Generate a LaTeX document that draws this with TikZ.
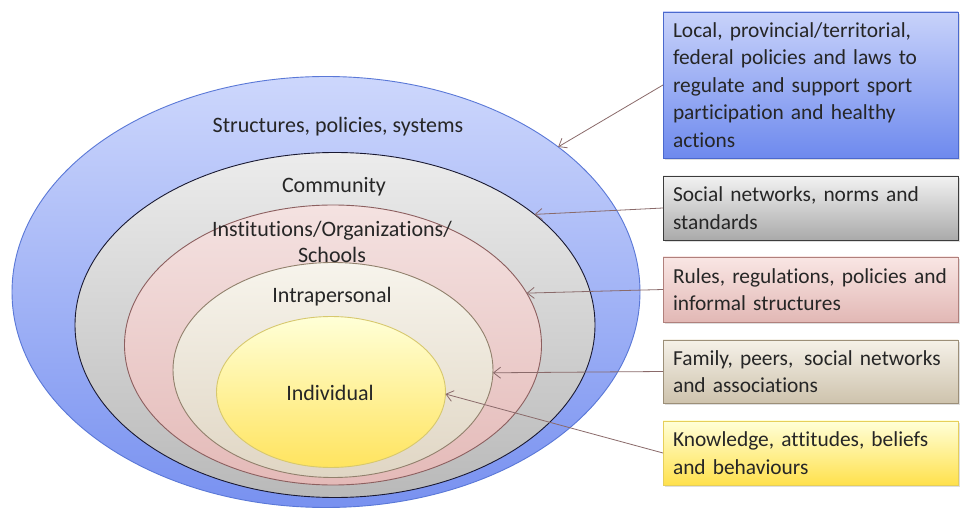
\documentclass[tikz,border=0pt]{standalone}
\usepackage{fontspec}
\setmainfont{Carlito}[Ligatures=NoCommon]
\usetikzlibrary{shapes.geometric,arrows.meta,shadows}
\definecolor{txt}{HTML}{262626}
\definecolor{arr}{HTML}{8A6A6A}
\definecolor{sT}{RGB}{205,215,252}\definecolor{sB}{RGB}{120,145,240}\definecolor{sD}{RGB}{90,120,215}
\definecolor{cT}{RGB}{236,236,236}\definecolor{cB}{RGB}{185,185,185}\definecolor{cD}{RGB}{25,25,50}
\definecolor{iT}{RGB}{244,226,225}\definecolor{iB}{RGB}{228,186,184}\definecolor{iD}{RGB}{140,95,95}
\definecolor{pT}{RGB}{247,244,236}\definecolor{pB}{RGB}{224,214,196}\definecolor{pD}{RGB}{145,128,108}
\definecolor{yT}{RGB}{255,255,215}\definecolor{yB}{RGB}{255,228,95}\definecolor{yD}{RGB}{215,200,110}
\definecolor{b1T}{RGB}{200,210,250}\definecolor{b1B}{RGB}{110,138,238}\definecolor{b1D}{RGB}{75,105,205}
\definecolor{b2T}{RGB}{242,242,242}\definecolor{b2B}{RGB}{170,170,170}\definecolor{b2D}{RGB}{60,60,60}
\definecolor{b3T}{RGB}{249,230,228}\definecolor{b3B}{RGB}{226,184,181}\definecolor{b3D}{RGB}{176,128,124}
\definecolor{b4T}{RGB}{245,241,232}\definecolor{b4B}{RGB}{206,195,173}\definecolor{b4D}{RGB}{156,143,120}
\definecolor{b5T}{RGB}{255,255,216}\definecolor{b5B}{RGB}{255,225,77}\definecolor{b5D}{RGB}{230,207,90}
\begin{document}
\begin{tikzpicture}[x=1pt,y=-1pt,
  ring/.style={ellipse,inner sep=0pt,outer sep=0pt,line width=0.9pt},
  lbl/.style={text=txt,font=\fontsize{22}{26}\selectfont,align=center,inner sep=0pt},
  infobox/.style={rectangle,line width=0.9pt,inner xsep=10pt,inner ysep=4pt,outer sep=0pt,
    text width=275pt,align=left,text=txt,font=\fontsize{21.4}{27.5}\selectfont,
    drop shadow={shadow xshift=1.5pt,shadow yshift=-2pt,opacity=0.25}},
  link/.style={draw=arr,line width=0.8pt,-{Straight Barb[length=7pt,width=11pt,line width=0.8pt]}}
]
\useasboundingbox (0,0) rectangle (964,510);
\fill[white] (0,0) rectangle (964,510);
% ellipses
\node[ring,minimum width=628pt,minimum height=431pt,top color=sT,bottom color=sB,draw=sD] (struct) at (326,292) {};
\node[ring,minimum width=520pt,minimum height=345pt,top color=cT,bottom color=cB,draw=cD] (comm) at (335,325) {};
\node[ring,minimum width=417pt,minimum height=280pt,top color=iT,bottom color=iB,draw=iD] (inst) at (333,345) {};
\node[ring,minimum width=320pt,minimum height=215pt,top color=pT,bottom color=pB,draw=pD] (intra) at (333,370) {};
\node[ring,minimum width=229pt,minimum height=151pt,top color=yT,bottom color=yB,draw=yD] (indiv) at (331,392) {};
% ellipse labels
\node[lbl] (lstruct) at (338,127) {Structures, policies, systems};
\node[lbl] (lcomm) at (334,187) {Community};
\node[lbl] (linst) at (332,242) {Institutions/Organizations/\\Schools};
\node[lbl] (lintra) at (332,297) {Intrapersonal};
\node[lbl] (lindiv) at (330,393) {Individual};
% boxes
\node[infobox,anchor=north west,minimum height=146pt,top color=b1T,bottom color=b1B,draw=b1D] (b1) at (663,12) {\mbox{Local, provincial/territorial,}\\\mbox{federal policies and laws to}\\\mbox{regulate and support sport}\\\mbox{participation and healthy}\\actions};
\node[infobox,anchor=north west,minimum height=64pt,top color=b2T,bottom color=b2B,draw=b2D] (b2) at (663,176) {\mbox{Social networks, norms and}\\standards};
\node[infobox,anchor=north west,minimum height=65pt,top color=b3T,bottom color=b3B,draw=b3D] (b3) at (663,257) {\mbox{Rules, regulations, policies and}\\\mbox{informal structures}};
\node[infobox,anchor=north west,minimum height=63pt,top color=b4T,bottom color=b4B,draw=b4D] (b4) at (663,340) {\mbox{Family, peers,\, social networks}\\\mbox{and associations}};
\node[infobox,anchor=north west,minimum height=64pt,top color=b5T,bottom color=b5B,draw=b5D] (b5) at (663,421) {\mbox{Knowledge, attitudes, beliefs}\\\mbox{and behaviours}};
% connectors
\draw[link] (b1.west) -- (struct.32);
\draw[link] (b2.west) -- (comm.29);
\draw[link] (b3.west) -- (inst.15);
\draw[link] (b4.west) -- (intra.-1);
\draw[link] (b5.west) -- (indiv.-1);
\end{tikzpicture}
\end{document}
